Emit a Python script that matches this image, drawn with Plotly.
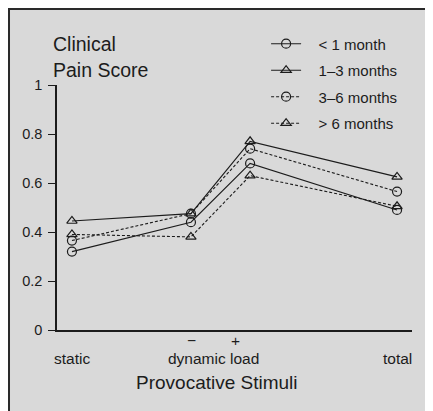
import plotly.graph_objects as go

# ---- data ----
stimuli = ["static", "dynamic load \u2212", "dynamic load +", "total"]
stim_pos = [0, 3.66, 5.48, 10]          # horizontal placement of the stimulus categories
lt1 = [0.32, 0.44, 0.68, 0.49]          # < 1 month
m1_3 = [0.445, 0.475, 0.77, 0.625]      # 1–3 months
m3_6 = [0.365, 0.475, 0.74, 0.565]      # 3–6 months
gt6 = [0.39, 0.38, 0.63, 0.505]         # > 6 months
series_names = ["< 1 month", "1\u20133 months", "3\u20136 months", "> 6 months"]
yticks = [0, 0.2, 0.4, 0.6, 0.8, 1]
ytick_labels = ["0", "0.2", "0.4", "0.6", "0.8", "1"]

FONT = "Liberation Sans, Arial, Helvetica, sans-serif"
INK = "#1c1c1c"
PAD = "\u00a0\u00a0\u00a0"

styles = [
    dict(dash="solid", symbol="circle-open"),
    dict(dash="solid", symbol="triangle-up-open"),
    dict(dash="3px,2px", symbol="circle-open"),
    dict(dash="3px,2px", symbol="triangle-up-open"),
]

fig = go.Figure()
for i, (name, vals) in enumerate(zip(series_names, [lt1, m1_3, m3_6, gt6])):
    st = styles[i]
    fig.add_trace(go.Scatter(
        x=stim_pos, y=vals, name=PAD + name, mode="lines+markers",
        legendgroup=str(i),
        line=dict(color=INK, width=1.1, dash=st["dash"]),
        marker=dict(symbol=st["symbol"], size=9, color=INK, line=dict(width=1.2, color=INK)),
    ))

def ann(text, x, y, size, xref="paper", xanchor="center"):
    return dict(text=text, x=x, y=y, xref=xref, yref="paper", xanchor=xanchor, yanchor="middle",
                showarrow=False, font=dict(size=size, color=INK))

annotations = [
    ann("Clinical", -0.017, 1.167, 19.5, xanchor="left"),
    ann("Pain Score", -0.017, 1.061, 19.5, xanchor="left"),
    ann("static", stim_pos[0], -0.118, 15.5, xref="x"),
    ann("dynamic load", 4.34, -0.118, 15.5, xref="x"),
    ann("total", stim_pos[3], -0.118, 15.5, xref="x"),
    ann("\u2212", 3.69, -0.041, 15.5, xref="x"),
    ann("+", 5.02, -0.041, 15.5, xref="x"),
    ann("Provocative Stimuli", 4.45, -0.216, 19, xref="x"),
]

shapes = [
    dict(type="rect", xref="paper", yref="paper", x0=-0.1352, x1=1.12, y0=-0.4, y1=1.310,
         line=dict(color="#2a2a2a", width=2), fillcolor="#d9d9d9", layer="below"),
]

fig.update_layout(
    width=425, height=403,
    margin=dict(l=49, r=21, t=77, b=81),
    paper_bgcolor="#e4e4e4", plot_bgcolor="rgba(0,0,0,0)",
    font=dict(family=FONT, size=14, color=INK),
    showlegend=True,
    legend=dict(x=0.589, y=1.235, xanchor="left", yanchor="top", bgcolor="rgba(0,0,0,0)",
                font=dict(size=15, color=INK), tracegroupgap=4, itemwidth=30),
    xaxis=dict(range=[-0.46, 10.46], showgrid=False, zeroline=False, showline=True,
               linecolor=INK, linewidth=1.5, showticklabels=False, ticks=""),
    yaxis=dict(range=[0, 1], showgrid=False, zeroline=False, showline=True,
               linecolor=INK, linewidth=1.5, ticks="outside", ticklen=7, tickcolor=INK,
               ticklabelstandoff=3,
               tickvals=yticks, ticktext=ytick_labels, tickfont=dict(size=14.5, color=INK)),
    annotations=annotations,
    shapes=shapes,
)

fig.write_html("out.html")
